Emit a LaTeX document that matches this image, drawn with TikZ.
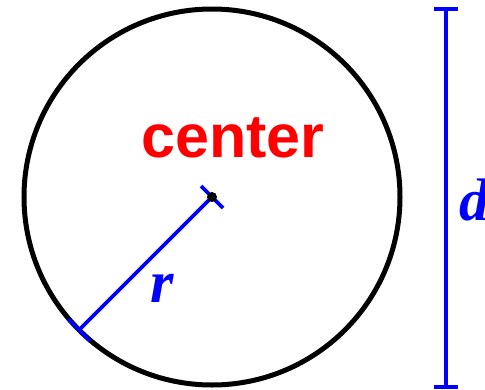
\documentclass[tikz,border=0pt]{standalone}
\usepackage{fontspec}
\newfontfamily\lsans{Liberation Sans}
\newfontfamily\lserif{Liberation Serif}
\begin{document}
\begin{tikzpicture}[x=1pt,y=-1pt,
  blueline/.style={draw=blue,line width=3.6pt},
  lbl/.style={text=blue,font=\lserif\bfseries\itshape\fontsize{60}{62}\selectfont,inner sep=0pt,anchor=base west},
]
\useasboundingbox (0,0) rectangle (485,389);
% circle
\coordinate (O) at (212,197);
\draw[line width=5pt] (O) circle[radius=188];
% radius
\coordinate (R) at (79,330);
\draw[blueline] (O) -- (R);
\coordinate (Ot1) at (201,186);
\coordinate (Ot2) at (223,208);
\coordinate (Rt1) at (68,319);
\coordinate (Rt2) at (90,341);
\draw[blueline] (Ot1) -- (Ot2);
\draw[blueline] (Rt1) -- (Rt2);
\fill (O) circle[radius=5];
% diameter
\coordinate (DT) at (446,9);
\coordinate (DB) at (446,387);
\coordinate (DT1) at (434,9);
\coordinate (DT2) at (458,9);
\coordinate (DB1) at (434,387);
\coordinate (DB2) at (458,387);
\draw[blueline] (DT) -- (DB);
\draw[blueline] (DT1) -- (DT2);
\draw[blueline] (DB1) -- (DB2);
% labels
\node[inner sep=0pt,anchor=base west,text=red,font=\lsans\bfseries\fontsize{61}{63}\selectfont] (ctr) at (141,157) {center};
\node[lbl] (dl) at (459,220) {d};
\node[lbl] (rl) at (150,302) {r};
\end{tikzpicture}
\end{document}
